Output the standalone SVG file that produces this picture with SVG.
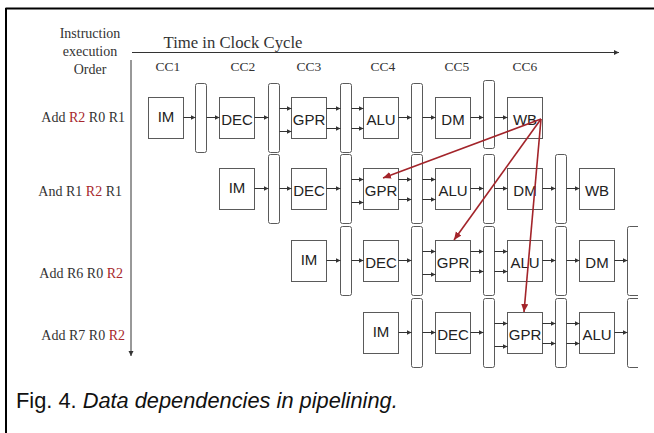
<svg xmlns="http://www.w3.org/2000/svg" width="654" height="433" viewBox="0 0 654 433">
<style>
.bx{fill:#fff;stroke:#5a5a5a;stroke-width:1}
.bar{fill:#fff;stroke:#5a5a5a;stroke-width:1}
.bt{font-family:"Liberation Sans",Arial,sans-serif;font-size:15px;fill:#222;text-anchor:middle}
.sr{font-family:"Liberation Serif","Times New Roman",serif;fill:#333}
.lbl{font-size:14px;text-anchor:end}
.cc{font-size:13.5px;text-anchor:middle}
.red{fill:#a8282c}
.c{stroke:#333;stroke-width:1;fill:none;marker-end:url(#ah)}
.rc{stroke:#a3242a;stroke-width:1.6;fill:none;marker-end:url(#rah)}
</style>
<defs>
<marker id="ah" markerUnits="userSpaceOnUse" markerWidth="6" markerHeight="6" refX="5" refY="2.5" orient="auto"><path d="M0,0 L5,2.5 L0,5 z" fill="#333"/></marker>
<marker id="rah" markerUnits="userSpaceOnUse" markerWidth="10" markerHeight="10" refX="8" refY="3.5" orient="auto"><path d="M0,0 L8,3.5 L0,7 z" fill="#a3242a"/></marker>
<clipPath id="clip"><rect x="0" y="0" width="638" height="433"/></clipPath>
</defs>
<rect x="0" y="0" width="654" height="433" fill="#fff"/>
<g id="frame"><path d="M5.5,8.5 H654 M6,8 V433" stroke="#000" stroke-width="2" fill="none"/></g>

<g id="axes">
<text class="sr" x="90" y="38" font-size="14" text-anchor="middle">Instruction</text>
<text class="sr" x="90" y="56" font-size="14" text-anchor="middle">execution</text>
<text class="sr" x="90" y="74" font-size="14" text-anchor="middle">Order</text>
<text class="sr" x="233" y="48" font-size="16.7" text-anchor="middle">Time in Clock Cycle</text>
<line x1="132" y1="52.5" x2="619" y2="52.5" class="c" stroke="#555"/>
<line x1="131" y1="60" x2="131" y2="356" class="c" stroke="#555"/>
<text class="sr cc" x="168" y="70.5">CC1</text>
<text class="sr cc" x="243" y="70.5">CC2</text>
<text class="sr cc" x="309" y="70.5">CC3</text>
<text class="sr cc" x="383" y="70.5">CC4</text>
<text class="sr cc" x="457" y="70.5">CC5</text>
<text class="sr cc" x="525" y="70.5">CC6</text>
<text class="sr lbl" x="125" y="121.5">Add <tspan class="red">R2</tspan> R0 R1</text>
<text class="sr lbl" x="122" y="195.5">And R1 <tspan class="red">R2</tspan> R1</text>
<text class="sr lbl" x="123" y="277.5">Add R6 R0 <tspan class="red">R2</tspan></text>
<text class="sr lbl" x="125" y="340">Add R7 R0 <tspan class="red">R2</tspan></text>
</g>

<!-- Row 1 -->
<g id="r1-im"><rect class="bx" x="148.5" y="97.5" width="35" height="41"/><text class="bt" x="166" y="121.5">IM</text></g>
<g id="r1-b1"><rect class="bar" x="195.5" y="83.5" width="11" height="69" rx="2"/></g>
<g id="r1-dec"><rect class="bx" x="219.5" y="97.5" width="35" height="41"/><text class="bt" x="237" y="124.5">DEC</text></g>
<g id="r1-b2"><rect class="bar" x="268.5" y="83.5" width="11" height="69" rx="2"/></g>
<g id="r1-gpr"><rect class="bx" x="291.5" y="97.5" width="35" height="41"/><text class="bt" x="309" y="124.5">GPR</text></g>
<g id="r1-b3"><rect class="bar" x="340.5" y="83.5" width="11" height="69" rx="2"/></g>
<g id="r1-alu"><rect class="bx" x="363.5" y="97.5" width="35" height="41"/><text class="bt" x="381" y="124.5">ALU</text></g>
<g id="r1-b4"><rect class="bar" x="411.5" y="83.5" width="11" height="69" rx="2"/></g>
<g id="r1-dm"><rect class="bx" x="435.5" y="97.5" width="35" height="41"/><text class="bt" x="453" y="124.5">DM</text></g>
<g id="r1-b5"><rect class="bar" x="483.5" y="80.5" width="11" height="68" rx="2"/></g>
<g id="r1-wb"><rect class="bx" x="507.5" y="97.5" width="35" height="41"/><text class="bt" x="525" y="124.5">WB</text></g>

<!-- Row 2 -->
<g id="r2-im"><rect class="bx" x="219.5" y="168.5" width="35" height="41"/><text class="bt" x="237" y="192.5">IM</text></g>
<g id="r2-b1"><rect class="bar" x="268.5" y="154.5" width="11" height="69" rx="2"/></g>
<g id="r2-dec"><rect class="bx" x="291.5" y="168.5" width="35" height="41"/><text class="bt" x="309" y="195.5">DEC</text></g>
<g id="r2-b2"><rect class="bar" x="340.5" y="154.5" width="11" height="69" rx="2"/></g>
<g id="r2-gpr"><rect class="bx" x="363.5" y="168.5" width="35" height="41"/><text class="bt" x="381" y="195.5">GPR</text></g>
<g id="r2-b3"><rect class="bar" x="411.5" y="154.5" width="11" height="69" rx="2"/></g>
<g id="r2-alu"><rect class="bx" x="435.5" y="168.5" width="35" height="41"/><text class="bt" x="453" y="195.5">ALU</text></g>
<g id="r2-b4"><rect class="bar" x="483.5" y="154.5" width="11" height="69" rx="2"/></g>
<g id="r2-dm"><rect class="bx" x="507.5" y="168.5" width="35" height="41"/><text class="bt" x="525" y="195.5">DM</text></g>
<g id="r2-b5"><rect class="bar" x="555.5" y="154.5" width="11" height="69" rx="2"/></g>
<g id="r2-wb"><rect class="bx" x="579.5" y="168.5" width="35" height="41"/><text class="bt" x="597" y="195.5">WB</text></g>

<!-- Row 3 -->
<g id="r3-im"><rect class="bx" x="291.5" y="240.5" width="35" height="41"/><text class="bt" x="309" y="264.5">IM</text></g>
<g id="r3-b1"><rect class="bar" x="340.5" y="226.5" width="11" height="69" rx="2"/></g>
<g id="r3-dec"><rect class="bx" x="363.5" y="240.5" width="35" height="41"/><text class="bt" x="381" y="267.5">DEC</text></g>
<g id="r3-b2"><rect class="bar" x="411.5" y="226.5" width="11" height="69" rx="2"/></g>
<g id="r3-gpr"><rect class="bx" x="435.5" y="240.5" width="35" height="41"/><text class="bt" x="453" y="267.5">GPR</text></g>
<g id="r3-b3"><rect class="bar" x="483.5" y="226.5" width="11" height="69" rx="2"/></g>
<g id="r3-alu"><rect class="bx" x="507.5" y="240.5" width="35" height="41"/><text class="bt" x="525" y="267.5">ALU</text></g>
<g id="r3-b4"><rect class="bar" x="555.5" y="226.5" width="11" height="69" rx="2"/></g>
<g id="r3-dm"><rect class="bx" x="579.5" y="240.5" width="35" height="41"/><text class="bt" x="597" y="267.5">DM</text></g>
<g id="r3-b5" clip-path="url(#clip)"><rect class="bar" x="627.5" y="226.5" width="14" height="69" rx="2"/></g>

<!-- Row 4 -->
<g id="r4-im"><rect class="bx" x="363.5" y="312.5" width="35" height="41"/><text class="bt" x="381" y="336.5">IM</text></g>
<g id="r4-b1"><rect class="bar" x="411.5" y="298.5" width="11" height="69" rx="2"/></g>
<g id="r4-dec"><rect class="bx" x="435.5" y="312.5" width="35" height="41"/><text class="bt" x="453" y="339.5">DEC</text></g>
<g id="r4-b2"><rect class="bar" x="483.5" y="298.5" width="11" height="69" rx="2"/></g>
<g id="r4-gpr"><rect class="bx" x="507.5" y="312.5" width="35" height="41"/><text class="bt" x="525" y="339.5">GPR</text></g>
<g id="r4-b3"><rect class="bar" x="555.5" y="298.5" width="11" height="69" rx="2"/></g>
<g id="r4-alu"><rect class="bx" x="579.5" y="312.5" width="35" height="41"/><text class="bt" x="597" y="339.5">ALU</text></g>
<g id="r4-b4" clip-path="url(#clip)"><rect class="bar" x="627.5" y="298.5" width="14" height="69" rx="2"/></g>

<g id="connectors">
<!-- row 1 -->
<path class="c" d="M183.5,117.5H195.5"/>
<path class="c" d="M206.5,117.5H219.5"/>
<path class="c" d="M254.5,117.5H268.5"/>
<path class="c" d="M279.5,108.5H291.5"/><path class="c" d="M279.5,131.5H291.5"/>
<path class="c" d="M326.5,108.5H340.5"/><path class="c" d="M326.5,128.5H340.5"/>
<path class="c" d="M351.5,108.5H363.5"/><path class="c" d="M351.5,128.5H363.5"/>
<path class="c" d="M398.5,117.5H411.5"/>
<path class="c" d="M422.5,117.5H435.5"/>
<path class="c" d="M470.5,117.5H483.5"/>
<path class="c" d="M494.5,117.5H507.5"/>
<!-- row 2 -->
<path class="c" d="M254.5,188.5H268.5"/>
<path class="c" d="M279.5,188.5H291.5"/>
<path class="c" d="M326.5,188.5H340.5"/>
<path class="c" d="M351.5,179.5H363.5"/><path class="c" d="M351.5,202.5H363.5"/>
<path class="c" d="M398.5,179.5H411.5"/><path class="c" d="M398.5,199.5H411.5"/>
<path class="c" d="M422.5,179.5H435.5"/><path class="c" d="M422.5,199.5H435.5"/>
<path class="c" d="M470.5,188.5H483.5"/>
<path class="c" d="M494.5,188.5H507.5"/>
<path class="c" d="M542.5,188.5H555.5"/>
<path class="c" d="M566.5,188.5H579.5"/>
<!-- row 3 -->
<path class="c" d="M326.5,260.5H340.5"/>
<path class="c" d="M351.5,260.5H363.5"/>
<path class="c" d="M398.5,260.5H411.5"/>
<path class="c" d="M422.5,251.5H435.5"/><path class="c" d="M422.5,274.5H435.5"/>
<path class="c" d="M470.5,251.5H483.5"/><path class="c" d="M470.5,271.5H483.5"/>
<path class="c" d="M494.5,251.5H507.5"/><path class="c" d="M494.5,271.5H507.5"/>
<path class="c" d="M542.5,260.5H555.5"/>
<path class="c" d="M566.5,260.5H579.5"/>
<path class="c" d="M614.5,260.5H627.5"/>
<!-- row 4 -->
<path class="c" d="M398.5,332.5H411.5"/>
<path class="c" d="M422.5,332.5H435.5"/>
<path class="c" d="M470.5,332.5H483.5"/>
<path class="c" d="M494.5,323.5H507.5"/><path class="c" d="M494.5,346.5H507.5"/>
<path class="c" d="M542.5,323.5H555.5"/><path class="c" d="M542.5,343.5H555.5"/>
<path class="c" d="M566.5,323.5H579.5"/><path class="c" d="M566.5,343.5H579.5"/>
<path class="c" d="M614.5,332.5H627.5"/>
<!-- data dependencies -->
<path class="rc" d="M541,119 L383,178"/>
<path class="rc" d="M541,119 L454,240"/>
<path class="rc" d="M541,119 L524,312"/>
</g>

<text x="16" y="408" font-family="'Liberation Sans',Arial,sans-serif" font-size="21.8" fill="#111">Fig. 4. <tspan font-style="italic">Data dependencies in pipelining.</tspan></text>
</svg>
